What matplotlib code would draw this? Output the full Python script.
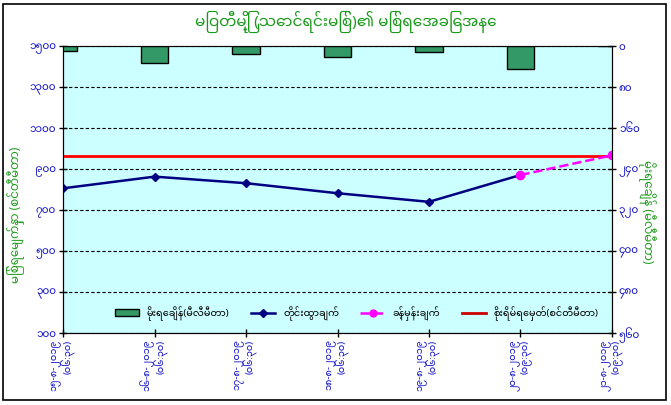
import matplotlib
matplotlib.use("Agg")
import matplotlib.pyplot as plt
from matplotlib import font_manager
from matplotlib.ft2font import FT2Font
from matplotlib.patches import Rectangle, Patch
from matplotlib.lines import Line2D

# look for installed fonts that have Myanmar glyphs
mm_fonts = []
for f in font_manager.fontManager.ttflist:
    try:
        if 0x1000 in FT2Font(f.fname).get_charmap() and f.name not in mm_fonts:
            mm_fonts.append(f.name)
    except Exception:
        pass
mm_font = None
for name in ["Noto Sans Myanmar", "Padauk", "Pyidaungsu", "Myanmar Text", "Myanmar3"]:
    if name in mm_fonts:
        mm_font = name
        break
if mm_font is None and mm_fonts:
    mm_font = mm_fonts[0]
plt.rcParams['font.family'] = [mm_font, 'DejaVu Sans'] if mm_font else ['DejaVu Sans']

title = "မြဝတီမြို့ (သောင်ရင်းမြစ်)၏ မြစ်ရေအခြေအနေ"
dates = ["၁၅-၈-၂၀၁၉\n(၀၆:၃၀)", "၁၆-၈-၂၀၁၉\n(၀၆:၃၀)", "၁၇-၈-၂၀၁၉\n(၀၆:၃၀)",
         "၁၈-၈-၂၀၁၉\n(၀၆:၃၀)", "၁၉-၈-၂၀၁၉\n(၀၆:၃၀)", "၂၀-၈-၂၀၁၉\n(၀၉:၃၀)",
         "၂၁-၈-၂၀၁၉\n(၀၉:၃၀)"]
rainfall = [11, 34, 17, 21, 13, 46, 0]          # mm
observed = [804, 861, 829, 780, 738, 869]       # cm
forecast = [869, 965]                           # cm (last observed + forecast)
danger_level = 960                              # cm

left_ticks = [100, 300, 500, 700, 900, 1100, 1300, 1500]
left_labels = ["၁၀၀", "၃၀၀", "၅၀၀", "၇၀၀", "၉၀၀", "၁၁၀၀", "၁၃၀၀", "၁၅၀၀"]
right_ticks = [0, 80, 160, 240, 320, 400, 480, 560]
right_labels = ["၀", "၈၀", "၁၆၀", "၂၄၀", "၃၂၀", "၄၀၀", "၄၈၀", "၅၆၀"]

leg_labels = ["မိုးရေချိန်(မီလီမီတာ)", "တိုင်းထွာချက်", "ခန့်မှန်းချက်",
              "စိုးရိမ်ရေမှတ်(စင်တီမီတာ)"]
ylabel_left = "မြစ်ရေမျက်နှာ (စင်တီမီတာ)"
ylabel_right = "မိုးရေချိန် (မီလီမီတာ)"

green = "#1a9a1a"
blue = "#1010c8"

fig = plt.figure(figsize=(6.71, 4.05), dpi=100)
fig.patches.append(Rectangle((0.004, 0.012), 0.988, 0.978, transform=fig.transFigure,
                             fill=False, edgecolor="black", lw=1.2))
ax = fig.add_axes([0.094, 0.179, 0.818, 0.708])
ax.set_facecolor("#ccffff")

x = list(range(len(dates)))
ax.plot(x, [danger_level] * len(x), color="#ff0000", lw=2, zorder=3)
ax.plot(x[:len(observed)], observed, color="#000080", lw=1.8, marker="D", ms=4.5, zorder=4)
ax.plot(x[len(observed) - 1:], forecast, color="#ff00ff", lw=1.8, ls="--",
        marker="o", ms=6, zorder=5)

ax.set_xlim(0, len(dates) - 1)
ax.set_ylim(100, 1500)
ax.set_yticks(left_ticks)
ax.set_yticklabels(left_labels, color=blue, fontsize=7.5)
ax.set_xticks(x)
ax.set_xticklabels(dates, rotation=90, color=blue, fontsize=7, ha="center", va="top",
                   multialignment="right", linespacing=1.0)
ax.yaxis.grid(True, color="black", ls=(0, (3, 2)), lw=0.8)
ax.tick_params(axis="both", direction="inout", length=6, width=1, pad=2)
ax.spines["top"].set_color("#808080")
ax.set_ylabel(ylabel_left, color=green, fontsize=8.5)
ax.yaxis.set_label_coords(-0.07, 0.41)

ax2 = ax.twinx()
bars = ax2.bar(x, rainfall, width=0.3, color="#339966", edgecolor="black", lw=1)
ax2.set_ylim(560, 0)
ax2.set_yticks(right_ticks)
ax2.set_yticklabels(right_labels, color=blue, fontsize=7.5)
ax2.tick_params(axis="y", direction="inout", length=6, width=1, pad=2)
ax2.set_ylabel(ylabel_right, color=green, fontsize=8.5, rotation=-90)
ax2.yaxis.set_label_coords(1.08, 0.42)

handles = [Patch(facecolor="#339966", edgecolor="black"),
           Line2D([], [], color="#000080", lw=1.8, marker="D", ms=4.5),
           Line2D([], [], color="#ff00ff", lw=1.8, ls="--", marker="o", ms=5),
           Line2D([], [], color="#cc0000", lw=2)]
ax2.legend(handles, leg_labels, loc="lower center", bbox_to_anchor=(0.535, 0.01), ncol=4,
           frameon=False, fontsize=7, handlelength=2.5, columnspacing=2.2)

fig.text(0.515, 0.945, title, color=green, fontsize=11, fontweight="bold",
         ha="center", va="center")

fig.savefig("out.png", dpi=100)
